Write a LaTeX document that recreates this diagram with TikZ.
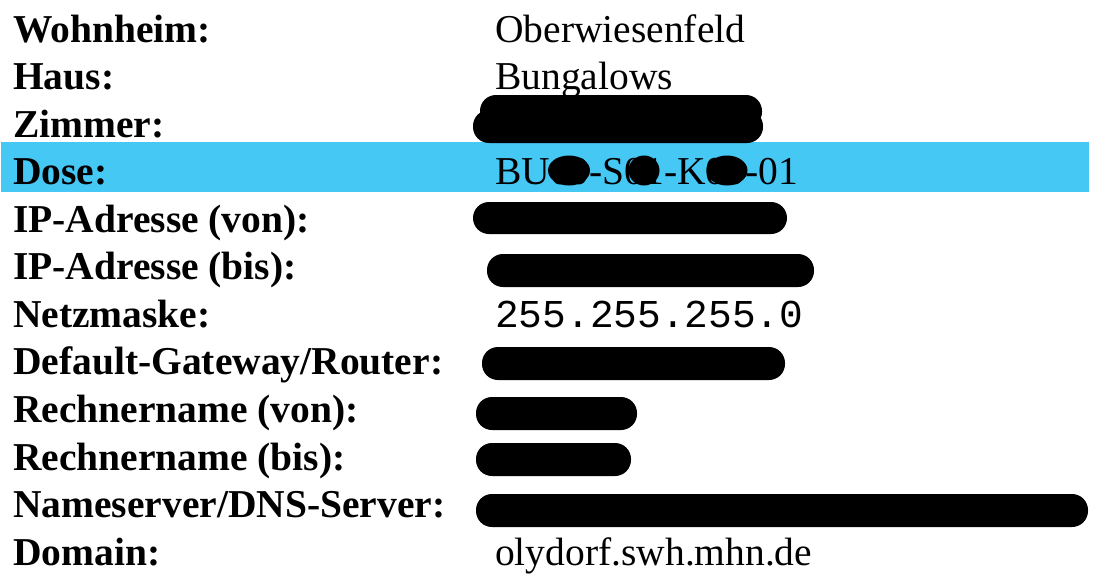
\documentclass[tikz,border=0pt]{standalone}
\usepackage{fontspec}
\setmainfont{Liberation Serif}
\setmonofont{Liberation Mono}
\definecolor{bandcyan}{RGB}{70,200,245}
\tikzset{
  lbl/.style={anchor=base west, inner sep=0pt, font=\fontsize{39.5}{47}\selectfont\bfseries},
  val/.style={anchor=base west, inner sep=0pt, font=\fontsize{39.5}{47}\selectfont},
  monoval/.style={anchor=base west, inner sep=0pt, font=\fontsize{39.5}{47}\selectfont\ttfamily},
  redact/.style={fill=black, rounded corners=16pt},
}
\begin{document}
\begin{tikzpicture}[x=1pt,y=-1pt]
\useasboundingbox (0,0) rectangle (1106,582);
% highlight band
\fill[bandcyan] (1,142) rectangle (1089,192);
% labels
\node[lbl] (l0) at (13,42) {Wohnheim:};
\node[lbl] (l1) at (13,89.5) {Haus:};
\node[lbl] (l2) at (13,137.1) {Zimmer:};
\node[lbl] (l3) at (13,184.7) {Dose:};
\node[lbl] (l4) at (13,232.2) {IP-Adresse (von):};
\node[lbl] (l5) at (13,279.8) {IP-Adresse (bis):};
\node[lbl] (l6) at (13,327.3) {Netzmaske:};
\node[lbl] (l7) at (13,374.9) {Default-Gateway/Router:};
\node[lbl] (l8) at (13,422.4) {Rechnername (von):};
\node[lbl] (l9) at (13,470) {Rechnername (bis):};
\node[lbl] (l10) at (13,517.5) {Nameserver/DNS-Server:};
\node[lbl] (l11) at (13,565) {Domain:};
% values
\node[val] (v0) at (495,42) {Oberwiesenfeld};
\node[val] (v1) at (495,89.5) {Bungalows};
\node[val] (v3) at (495,184.7) {BU00-S01-K00-01};
\node[monoval] (v6) at (495,327.3) {255.255.255.0};
\node[val] (v11) at (495,565) {olydorf.swh.mhn.de};
% redactions
\fill[redact] (480,95) rectangle (762,128);
\fill[redact] (473,110) rectangle (763,143);
\fill (569,170.5) ellipse [x radius=21, y radius=15];
\fill (644,170.5) ellipse [x radius=15.5, y radius=15];
\fill (727,170.5) ellipse [x radius=20.5, y radius=15];
\fill[redact] (473,202) rectangle (787,234);
\fill[redact] (487,254) rectangle (814,287);
\fill[redact] (482,347) rectangle (785,380);
\fill[redact] (476,397) rectangle (637,430);
\fill[redact] (476,443) rectangle (631,476);
\fill[redact] (476,494) rectangle (1088,527);
\end{tikzpicture}
\end{document}
